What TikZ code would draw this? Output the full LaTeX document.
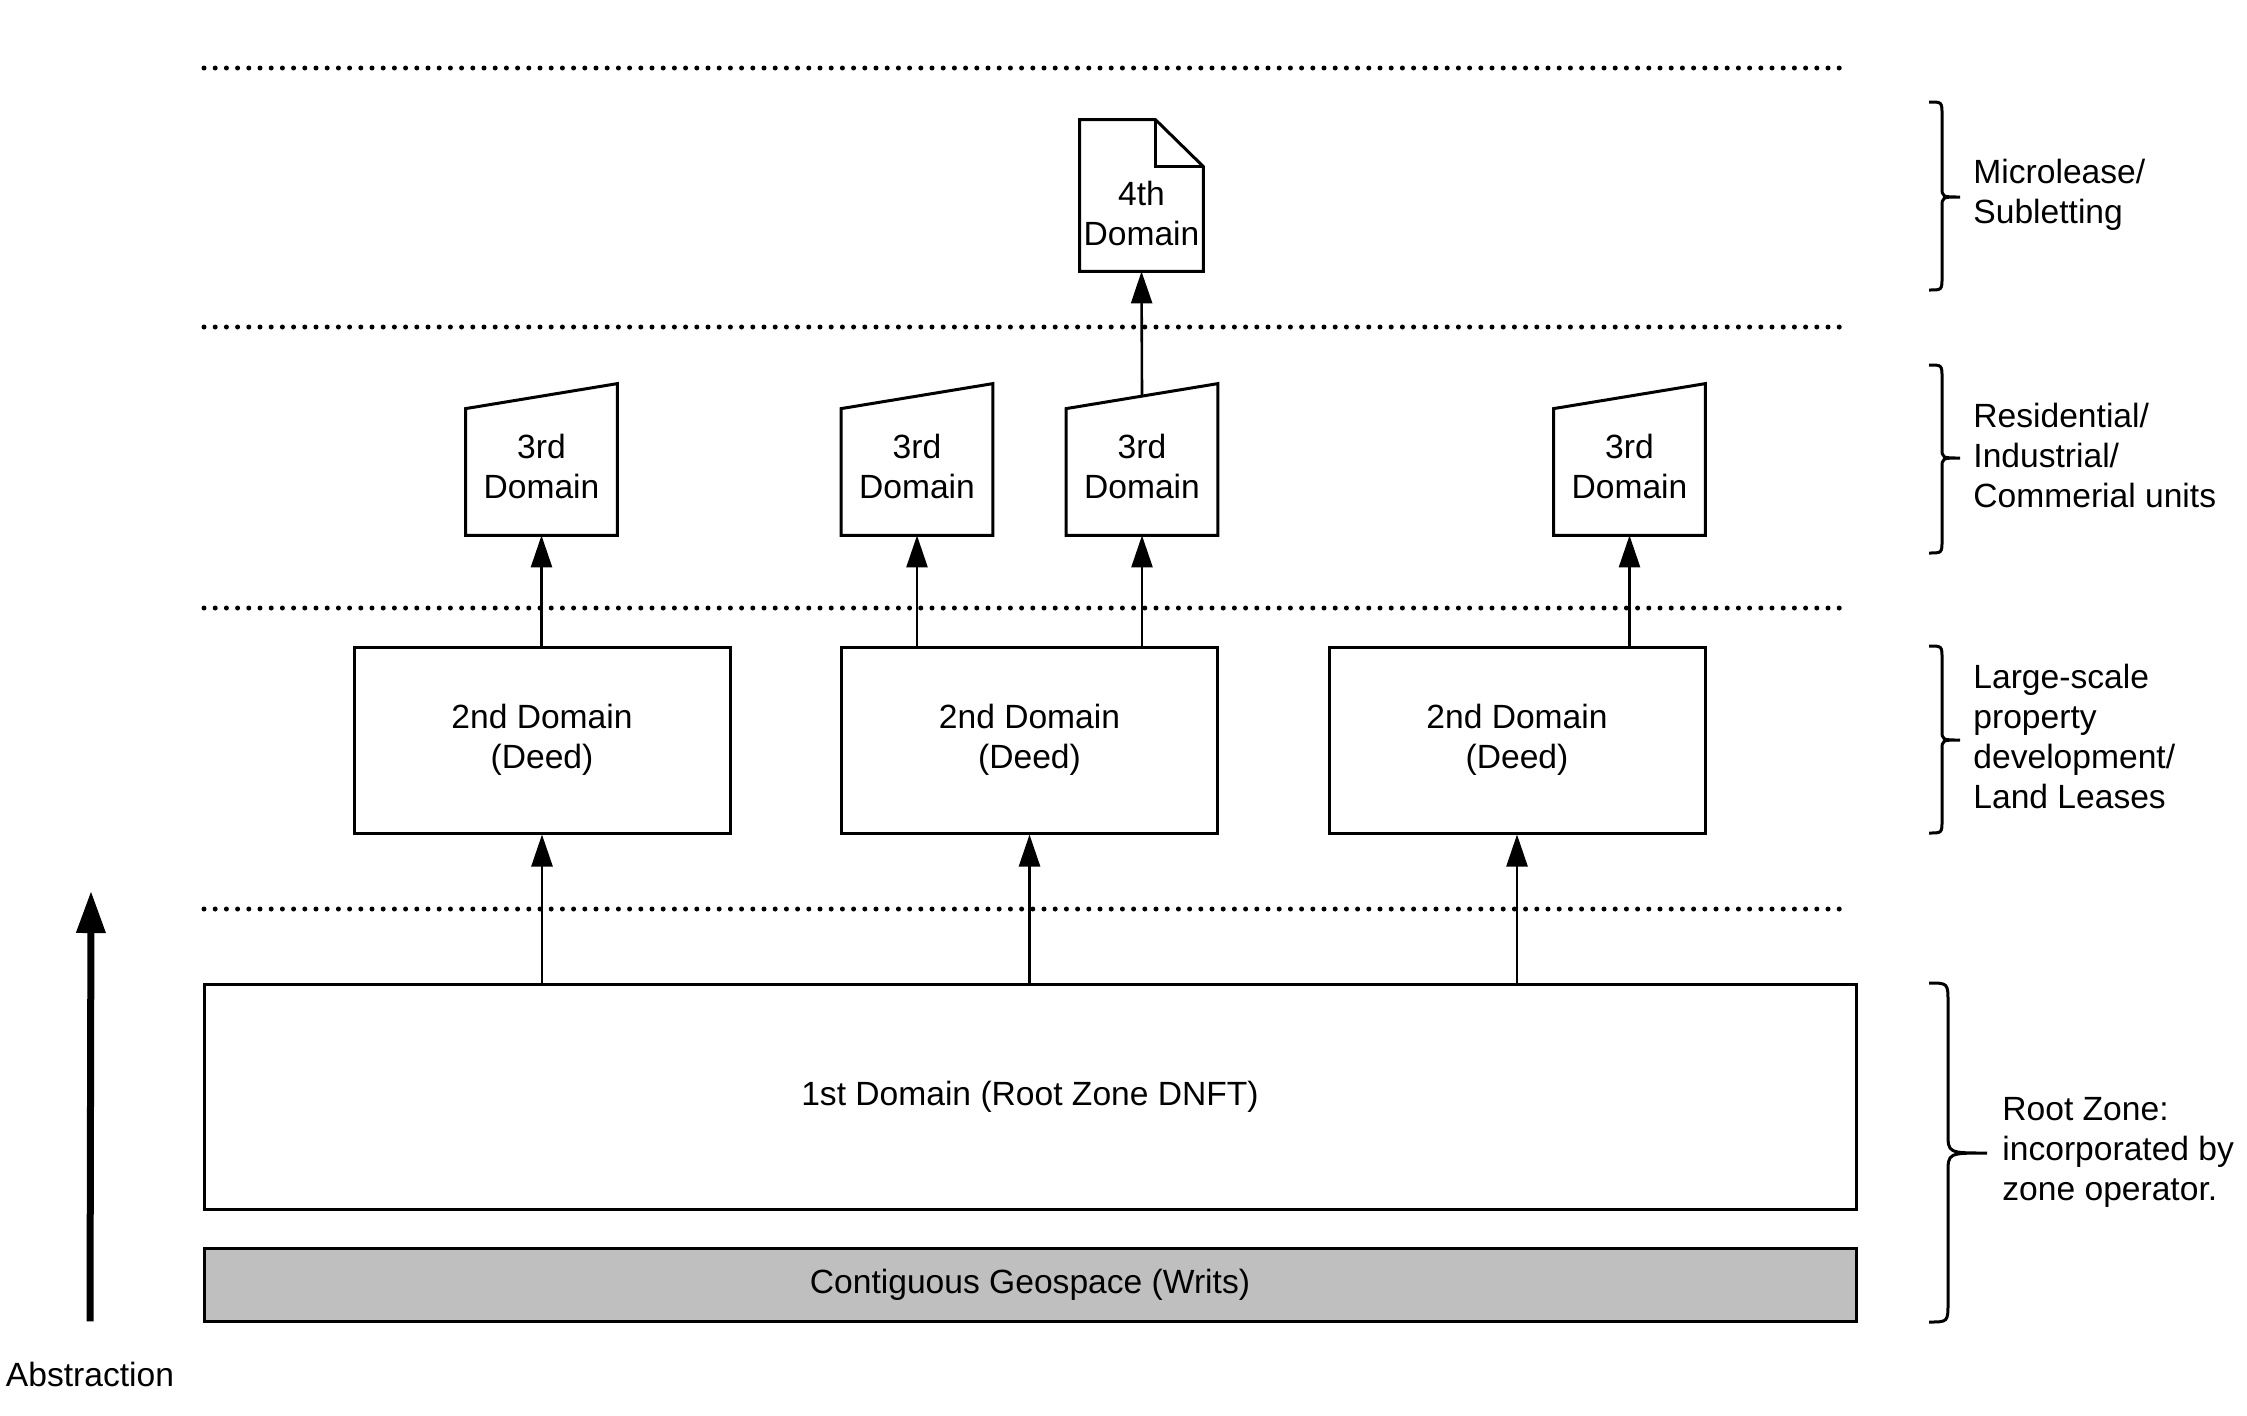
\documentclass[tikz,border=0pt]{standalone}
\usepackage{fontspec}
\setmainfont{Liberation Sans}
\usetikzlibrary{arrows.meta}
\definecolor{writgray}{RGB}{191,191,191}
\tikzstyle{boxtext}=[font=\fontsize{16.8}{20}\selectfont, align=center, inner sep=0pt]
\tikzstyle{domainbox}=[boxtext, draw, line width=1.5pt]
\tikzstyle{deedbox}=[domainbox, minimum width=188pt, minimum height=93pt]
\tikzstyle{rootbox}=[domainbox, minimum width=826pt, minimum height=112.5pt]
\tikzstyle{writbox}=[domainbox, fill=writgray, minimum width=826pt, minimum height=36.5pt]
\tikzstyle{unitbox}=[boxtext, minimum width=75.5pt, minimum height=69pt]
\tikzstyle{docbox}=[boxtext, minimum width=61.5pt, minimum height=58pt]
\tikzstyle{outline}=[line width=1.5pt, line join=miter]
\tikzstyle{link}=[line width=1.3pt, -{Triangle[length=16pt, width=10.5pt]}]
\tikzstyle{bigarrow}=[line width=3.5pt, -{Triangle[length=21pt, width=14pt]}]
\tikzstyle{level}=[line width=2.5pt, line cap=round, dash pattern=on 0pt off 5.6pt]
\tikzstyle{bracket}=[line width=1.5pt]
\tikzstyle{zonetext}=[font=\fontsize{16.8}{20}\selectfont, align=left, anchor=west, inner sep=0pt]

\begin{document}
\begin{tikzpicture}[x=0.5pt, y=-0.5pt]
    \useasboundingbox (0,0) rectangle (2247,1415);
    % layer separators
    \foreach \y in {68, 327, 608, 909}
        \draw[level] (204,\y) -- (1844,\y);

    % domains
    \node[writbox]  (writ) at (1030,1284.5) {Contiguous Geospace (Writs)};
    \node[rootbox]  (root) at (1030,1096.5) {1st Domain (Root Zone DNFT)};
    \node[deedbox]  (d2a)  at (542,740)     {2nd Domain\\(Deed)};
    \node[deedbox]  (d2b)  at (1029.5,740)  {2nd Domain\\(Deed)};
    \node[deedbox]  (d2c)  at (1517,740)    {2nd Domain\\(Deed)};
    \node[unitbox]  (u1)   at (541.5,466)   {3rd\\Domain};
    \node[unitbox]  (u2)   at (917,466)     {3rd\\Domain};
    \node[unitbox]  (u3)   at (1142,466)    {3rd\\Domain};
    \node[unitbox]  (u4)   at (1629.5,466)  {3rd\\Domain};
    \node[docbox]   (d4)   at (1141.5,213)  {4th\\Domain};

    \foreach \n in {u1, u2, u3, u4}
        \draw[outline] (\n.south west) -- (\n.south east) -- ([yshift=6.5pt]\n.north east) -- ([yshift=-6pt]\n.north west) -- cycle;
    \draw[outline] (d4.south west) -- (d4.south east) -- ([yshift=-6pt]d4.north east) -- ([xshift=-24pt, yshift=17.5pt]d4.north east) -- ([yshift=17.5pt]d4.north west) -- cycle;
    \draw[outline] ([xshift=-24pt, yshift=17.5pt]d4.north east) -- ([xshift=-24pt, yshift=-6pt]d4.north east) -- ([yshift=-6pt]d4.north east);

    % links
    \draw[link] (root.north -| d2a.south) -- (d2a.south);
    \draw[link] (root.north -| d2b.south) -- (d2b.south);
    \draw[link] (root.north -| d2c.south) -- (d2c.south);
    \draw[link] (d2a.north -| u1.south) -- (u1.south);
    \draw[link] (d2b.north -| u2.south) -- (u2.south);
    \draw[link] (d2b.north -| u3.south) -- (u3.south);
    \draw[link] (d2c.north -| u4.south) -- (u4.south);
    \draw[link] (u3.north) -- (d4.south);

    % abstraction axis
    \node[font=\fontsize{16.8}{20}\selectfont, inner sep=0pt] (abs) at (90,1374) {Abstraction};
    \coordinate (abstop) at (91,891);
    \draw[bigarrow] ([yshift=20pt]abs.north) -- (abstop);

    % braces
    \foreach \t/\m/\b in {102/197/290, 365/458/553, 646/740/833}
        \draw[bracket] (1929,\t) .. controls (1942,\t) .. (1942,\t+13) -- (1942,\m-10)
            .. controls (1942,\m) .. (1960,\m) .. controls (1942,\m) .. (1942,\m+10)
            -- (1942,\b-13) .. controls (1942,\b) .. (1929,\b);
    \draw[bracket] (1929,983) .. controls (1948,983) .. (1948,1003) -- (1948,1133)
        .. controls (1948,1153) .. (1987,1153) .. controls (1948,1153) .. (1948,1173)
        -- (1948,1302) .. controls (1948,1322) .. (1929,1322);

    \node[zonetext] (lease) at (1973,195)  {Microlease/\\Subletting};
    \node[zonetext] (units) at (1973,455)  {Residential/\\Industrial/\\Commerial units};
    \node[zonetext] (dev)   at (1973,736)  {Large-scale\\property\\development/\\Land Leases};
    \node[zonetext] (zone)  at (2002,1152) {Root Zone:\\incorporated by\\zone operator.};
\end{tikzpicture}
\end{document}
